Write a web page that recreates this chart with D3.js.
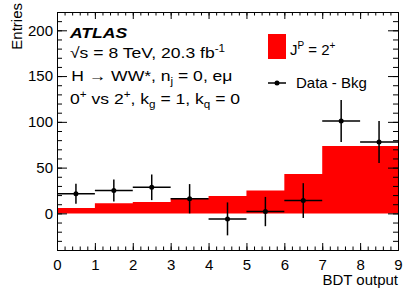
<!DOCTYPE html>
<html>
<head>
<meta charset="utf-8">
<script src="https://cdn.jsdelivr.net/npm/d3@7"></script>
<style>
	body { margin: 0; background: #fff; }
	svg { display: block; font-family: "Liberation Sans", Arial, Helvetica, sans-serif; }
	.axis text { font-size: 15px; fill: #000; }
	.axis path, .axis line { stroke: #000; stroke-width: 1; }
</style>
</head>
<body>
<svg width="407" height="292"></svg>
<script>
// spin-2 expectation, one value per BDT bin
const binEdges = [0, 1, 2, 3, 4, 5, 6, 7, 8, 9];
const spin2Values = [6, 11, 12.5, 16.5, 19, 25, 43, 73.5, 73.5];

// data minus background
const dataCenters = [0.5, 1.5, 2.5, 3.5, 4.5, 5.5, 6.5, 7.5, 8.5];
const dataValues = [21.5, 25, 28.5, 16, -6, 2, 14, 101, 78];
const dataErrors = [11, 12, 14, 16, 18, 16, 19, 23, 23];

const xTicks = [0, 1, 2, 3, 4, 5, 6, 7, 8, 9];
const yTicks = [0, 50, 100, 150, 200];

const svg = d3.select("svg");
const frame = { left: 57, right: 398, top: 12, bottom: 250 };

const xScale = d3.scaleLinear()
				 .domain([0, 9])
				 .range([frame.left, frame.right]);
const yScale = d3.scaleLinear()
				 .domain([-40, 220])
				 .range([frame.bottom, frame.top]);

renderHistogram();
renderAxis();
renderData();
renderText();

function renderHistogram() {
	const steps = binEdges.map((e, i) => [e, spin2Values[Math.min(i, spin2Values.length - 1)]]);
	const area = d3.area()
				   .x(d => xScale(d[0]))
				   .y0(yScale(0))
				   .y1(d => yScale(d[1]))
				   .curve(d3.curveStepAfter);
	svg.append("path")
	   .datum(steps)
	   .attr("fill", "#ff0000")
	   .attr("d", area);
}

function renderAxis() {
	const xMinor = d3.range(0, 9.001, 0.2);
	const yMinor = d3.range(-40, 220.001, 10);

	// minor ticks first, on all four sides
	svg.append("g").attr("class", "axis")
	   .attr("transform", `translate(0, ${frame.bottom})`)
	   .call(d3.axisBottom(xScale).tickValues(xMinor).tickSize(-3.5).tickSizeOuter(0).tickFormat(""));
	svg.append("g").attr("class", "axis")
	   .attr("transform", `translate(0, ${frame.top})`)
	   .call(d3.axisTop(xScale).tickValues(xMinor).tickSize(-3.5).tickSizeOuter(0).tickFormat(""));
	svg.append("g").attr("class", "axis")
	   .attr("transform", `translate(${frame.left}, 0)`)
	   .call(d3.axisLeft(yScale).tickValues(yMinor).tickSize(-5).tickSizeOuter(0).tickFormat(""));
	svg.append("g").attr("class", "axis")
	   .attr("transform", `translate(${frame.right}, 0)`)
	   .call(d3.axisRight(yScale).tickValues(yMinor).tickSize(-5).tickSizeOuter(0).tickFormat(""));

	// major ticks
	svg.append("g").attr("class", "axis")
	   .attr("transform", `translate(0, ${frame.bottom})`)
	   .call(d3.axisBottom(xScale).tickValues(xTicks).tickSize(-7).tickSizeOuter(0).tickPadding(9).tickFormat(d3.format("d")));
	svg.append("g").attr("class", "axis")
	   .attr("transform", `translate(0, ${frame.top})`)
	   .call(d3.axisTop(xScale).tickValues(xTicks).tickSize(-7).tickSizeOuter(0).tickFormat(""));
	svg.append("g").attr("class", "axis")
	   .attr("transform", `translate(${frame.left}, 0)`)
	   .call(d3.axisLeft(yScale).tickValues(yTicks).tickSize(-10).tickSizeOuter(0).tickPadding(4).tickFormat(d3.format("d")));
	svg.append("g").attr("class", "axis")
	   .attr("transform", `translate(${frame.right}, 0)`)
	   .call(d3.axisRight(yScale).tickValues(yTicks).tickSize(-10).tickSizeOuter(0).tickFormat(""));

	svg.selectAll(".axis .domain").attr("stroke", "#000");

	svg.append("text")
	   .attr("transform", "translate(22, 3) rotate(-90)")
	   .attr("text-anchor", "end")
	   .attr("font-size", 15)
	   .text("Entries");

	svg.append("text")
	   .attr("x", frame.right)
	   .attr("y", 285)
	   .attr("text-anchor", "end")
	   .attr("font-size", 15)
	   .text("BDT output");
}

function renderData() {
	const g = svg.append("g").attr("stroke", "#000").attr("stroke-width", 1.5);
	dataCenters.forEach((c, i) => {
		g.append("line")
		 .attr("x1", xScale(c - 0.5)).attr("x2", xScale(c + 0.5))
		 .attr("y1", yScale(dataValues[i])).attr("y2", yScale(dataValues[i]));
		g.append("line")
		 .attr("x1", xScale(c)).attr("x2", xScale(c))
		 .attr("y1", yScale(dataValues[i] - dataErrors[i]))
		 .attr("y2", yScale(dataValues[i] + dataErrors[i]));
	});
	svg.selectAll("circle.pt")
	   .data(dataCenters)
	   .enter()
	   .append("circle")
	   .attr("class", "pt")
	   .attr("cx", d => xScale(d))
	   .attr("cy", (d, i) => yScale(dataValues[i]))
	   .attr("r", 2.5)
	   .attr("fill", "#000");
}

// text with ^{} and _{} pieces
function richText(parent, x, y, parts, opts = {}) {
	const t = parent.append("text")
				 .attr("x", x)
				 .attr("y", y)
				 .attr("font-size", opts.size || 15);
	if (opts.bold) t.attr("font-weight", "bold").attr("font-style", "italic");
	let shift = 0;
	parts.forEach(p => {
		let target = 0, size = opts.size || 15;
		if (p.sup) { target = -6; size = 10; }
		if (p.sub) { target = 4; size = 10; }
		t.append("tspan")
		 .attr("dy", target - shift)
		 .attr("font-size", size)
		 .text(p.t);
		shift = target;
	});
	return t;
}

function renderText() {
	// the label block is drawn a bit wider than plain Helvetica
	const label = svg.append("g")
					 .attr("transform", "translate(70, 0) scale(1.17, 1)");
	richText(label, 0, 38, [{ t: "ATLAS" }], { bold: true });
	richText(label, 0, 58, [{ t: "√s = 8 TeV, 20.3 fb" }, { t: "-1", sup: true }]);
	richText(label, 1, 81, [{ t: "H → WW*, n" }, { t: "j", sub: true }, { t: " = 0, eμ" }]);
	richText(label, 0, 104, [{ t: "0" }, { t: "+", sup: true }, { t: " vs 2" }, { t: "+", sup: true },
					   { t: ", k" }, { t: "g", sub: true }, { t: " = 1, k" }, { t: "q", sub: true }, { t: " = 0" }]);

	// legend
	svg.append("rect")
	   .attr("x", 268).attr("y", 34)
	   .attr("width", 18).attr("height", 25)
	   .attr("fill", "#ff0000");
	richText(svg, 290, 55, [{ t: "J" }, { t: "P", sup: true }, { t: " = 2" }, { t: "+", sup: true }]);

	svg.append("line")
	   .attr("x1", 268).attr("x2", 286)
	   .attr("y1", 83).attr("y2", 83)
	   .attr("stroke", "#000").attr("stroke-width", 1.5);
	svg.append("circle")
	   .attr("cx", 277).attr("cy", 83).attr("r", 2.5)
	   .attr("fill", "#000");
	richText(svg, 296, 88, [{ t: "Data - Bkg" }]);
}
</script>
</body>
</html>
